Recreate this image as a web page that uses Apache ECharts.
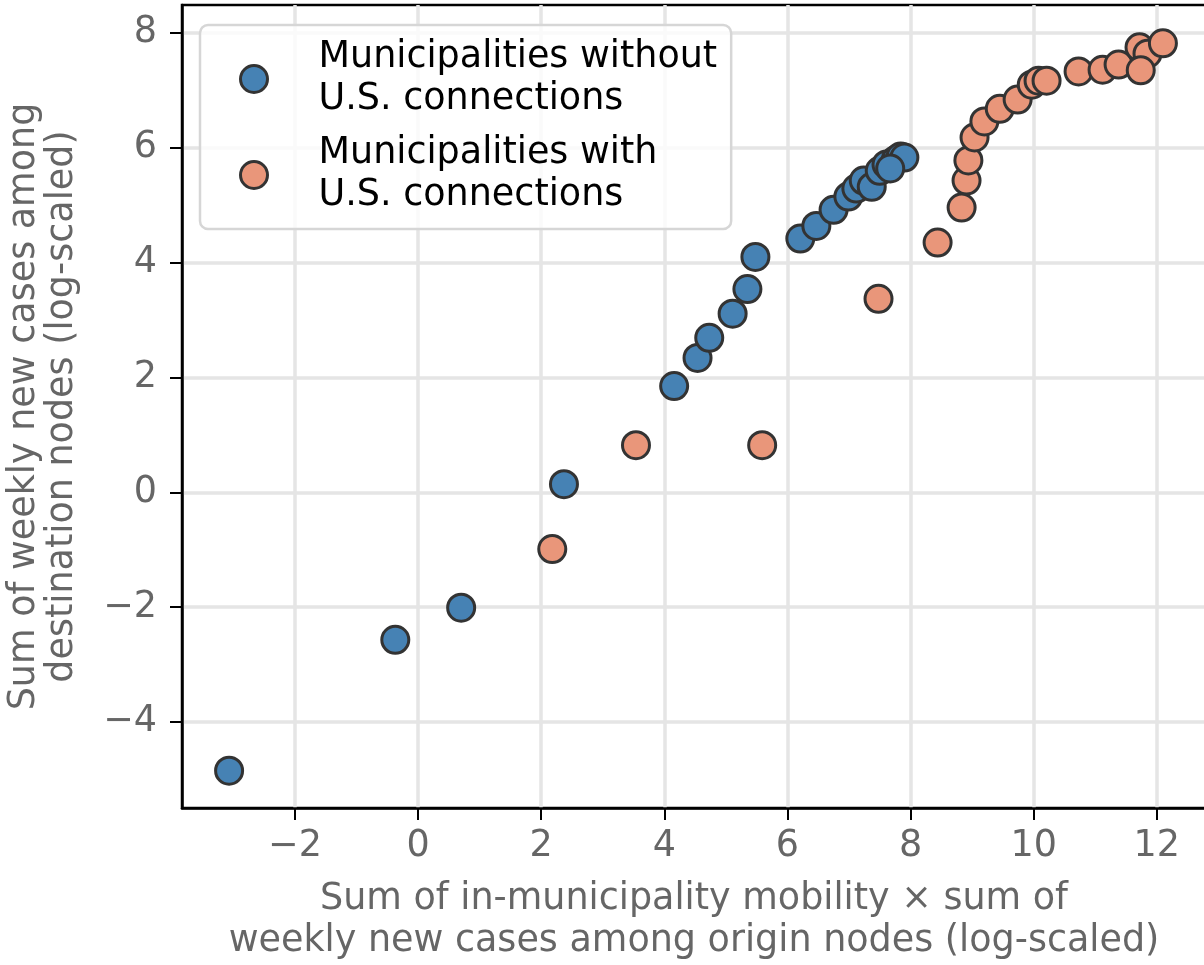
<!DOCTYPE html>
<html>
<head>
<meta charset="utf-8">
<script src="https://cdn.jsdelivr.net/npm/echarts@6/dist/echarts.min.js"></script>
<style>
html,body{margin:0;padding:0;background:#fff;}
#chart{width:1204px;height:965px;}
</style>
</head>
<body>
<div id="chart"></div>
<script>
// Municipalities without U.S. connections
const blueX = [-3.07, -0.37, 0.70, 2.37, 4.16, 4.54, 4.73, 5.11, 5.35, 5.48, 6.21, 6.47, 6.75, 6.99, 7.12, 7.24, 7.37, 7.50, 7.61, 7.76, 7.84, 7.90, 7.67];
const blueY = [-4.85, -2.57, -2.01, 0.14, 1.85, 2.34, 2.69, 3.11, 3.54, 4.10, 4.42, 4.64, 4.92, 5.15, 5.29, 5.43, 5.32, 5.60, 5.71, 5.79, 5.85, 5.83, 5.64];
// Municipalities with U.S. connections
const orangeX = [2.18, 3.54, 5.59, 7.48, 8.44, 8.83, 8.91, 8.94, 9.04, 9.20, 9.45, 9.74, 9.97, 10.08, 10.21, 10.73, 11.12, 11.38, 11.72, 11.85, 12.10, 11.74];
const orangeY = [-0.99, 0.82, 0.82, 3.37, 4.35, 4.96, 5.43, 5.78, 6.18, 6.46, 6.68, 6.84, 7.10, 7.17, 7.17, 7.33, 7.36, 7.45, 7.75, 7.64, 7.82, 7.35];

const xTicks = [-2, 0, 2, 4, 6, 8, 10, 12];
const yTicks = [-4, -2, 0, 2, 4, 6, 8];

const seriesNames = ['Municipalities without\nU.S. connections', 'Municipalities with\nU.S. connections'];

const fmt = v => v < 0 ? '\u2212' + Math.abs(v) : String(v);
const zip = (a, b) => a.map((v, i) => [v, b[i]]);

const chart = echarts.init(document.getElementById('chart'), null, {renderer: 'canvas'});
const font = 'DejaVu Sans';
const fs = 36.5;
chart.setOption({
  animation: false,
  backgroundColor: '#fff',
  grid: {left: 182, top: 5, right: -2, bottom: 157, containLabel: false, outerBoundsMode: 'none',
         show: true, borderColor: '#000', borderWidth: 2.5, backgroundColor: 'transparent'},
  legend: {
    orient: 'vertical', left: 200, top: 25,
    data: seriesNames.map(n => ({name: n, icon: 'circle'})),
    itemWidth: 27, itemHeight: 27, itemGap: 12,
    padding: [12, 14, 12, 39],
    backgroundColor: 'rgba(255,255,255,0.8)',
    borderColor: '#d6d6d6', borderWidth: 2.5, borderRadius: 8,
    textStyle: {fontFamily: font, fontSize: fs, color: '#000', lineHeight: 42, padding: [0, 0, 0, 46]},
    itemStyle: {borderColor: '#333', borderWidth: 3}
  },
  xAxis: {
    type: 'value', min: -3.835, max: 12.80,
    name: 'Sum of in-municipality mobility \u00d7 sum of\nweekly new cases among origin nodes (log-scaled)',
    nameLocation: 'middle', nameGap: 71,
    nameTextStyle: {fontFamily: font, fontSize: fs, color: '#666', lineHeight: 42},
    axisLine: {show: true, onZero: false, lineStyle: {color: '#000', width: 2.5}},
    axisTick: {show: true, inside: false, length: 12, lineStyle: {color: '#000', width: 2}, customValues: xTicks},
    axisLabel: {customValues: xTicks, formatter: fmt, fontFamily: font, fontSize: fs, color: '#666', margin: 20},
    splitLine: {show: true, lineStyle: {color: '#e5e5e5', width: 3.5}}
  },
  yAxis: {
    type: 'value', min: -5.50, max: 8.488,
    name: 'Sum of weekly new cases among\ndestination nodes (log-scaled)',
    nameLocation: 'middle', nameGap: 100,
    nameTextStyle: {fontFamily: font, fontSize: fs, color: '#666', lineHeight: 38},
    axisLine: {show: true, onZero: false, lineStyle: {color: '#000', width: 2.5}},
    axisTick: {show: true, inside: false, length: 12, lineStyle: {color: '#000', width: 2}, customValues: yTicks},
    axisLabel: {customValues: yTicks, formatter: fmt, fontFamily: font, fontSize: fs, color: '#666', margin: 25},
    splitLine: {show: true, lineStyle: {color: '#e5e5e5', width: 3.5}}
  },
  series: [
    {
      name: seriesNames[0], type: 'scatter', data: zip(blueX, blueY),
      symbol: 'circle', symbolSize: 27,
      itemStyle: {color: '#4682b4', borderColor: '#333', borderWidth: 3, opacity: 1}
    },
    {
      name: seriesNames[1], type: 'scatter', data: zip(orangeX, orangeY),
      symbol: 'circle', symbolSize: 27,
      itemStyle: {color: '#e9967a', borderColor: '#333', borderWidth: 3, opacity: 1}
    }
  ]
});
</script>
</body>
</html>
